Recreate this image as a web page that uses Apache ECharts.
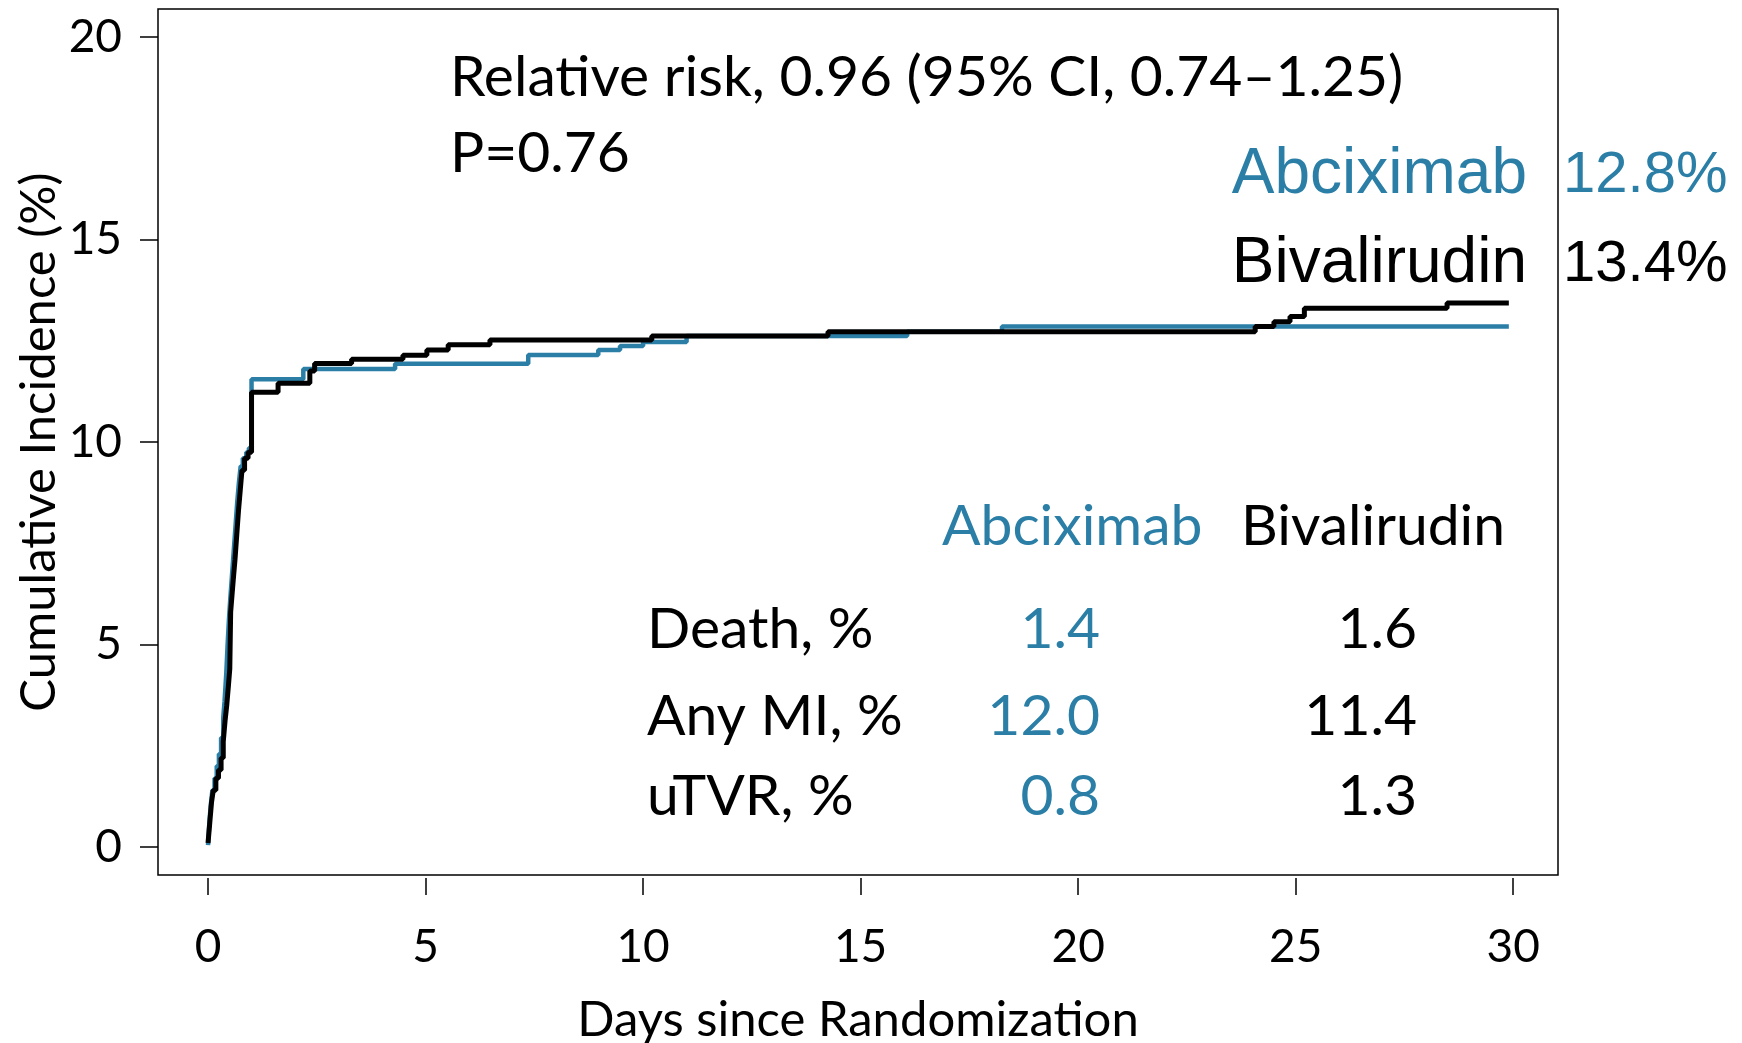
<!DOCTYPE html>
<html>
<head>
<meta charset="utf-8">
<script src="https://cdn.jsdelivr.net/npm/echarts@6/dist/echarts.min.js"></script>
<style>
  html, body { margin: 0; padding: 0; background: #fff; }
</style>
</head>
<body>
<!-- chart container, same size as the window -->
<div id="main" style="width: 1742px; height: 1043px;"></div>
<script>
// abciximab curve (day of event, cumulative %)
var abcDays = [0, 0.03, 0.06, 0.1, 0.15, 0.2, 0.25, 0.3, 0.35, 0.38, 0.42, 0.45, 0.48, 0.51, 0.55, 0.59, 0.63, 0.67, 0.71, 0.75, 0.8, 0.88, 0.94, 1.0, 2.19, 4.3, 7.36, 8.97, 9.47, 10.0, 11.0, 16.07, 18.25, 29.9]
var abcPct = [0.05, 0.6, 1.0, 1.4, 1.7, 2.0, 2.3, 2.7, 3.2, 3.6, 4.3, 5.0, 5.6, 6.1, 6.7, 7.3, 7.9, 8.5, 9.0, 9.4, 9.6, 9.75, 9.85, 11.55, 11.8, 11.93, 12.15, 12.27, 12.37, 12.47, 12.62, 12.72, 12.85, 12.85]

// bivalirudin curve
var bivDays = [0, 0.04, 0.08, 0.12, 0.18, 0.24, 0.3, 0.35, 0.39, 0.43, 0.47, 0.5, 0.52, 0.55, 0.58, 0.62, 0.66, 0.7, 0.74, 0.78, 0.84, 0.92, 1.0, 1.61, 2.34, 2.45, 3.3, 4.48, 5.03, 5.52, 6.48, 10.2, 14.25, 24.07, 24.5, 24.87, 25.2, 28.48, 29.9]
var bivPct = [0.1, 0.6, 1.1, 1.4, 1.7, 1.9, 2.2, 2.6, 3.1, 3.5, 4.0, 4.4, 5.8, 6.2, 6.6, 7.1, 7.7, 8.3, 8.8, 9.3, 9.6, 9.75, 11.23, 11.45, 11.75, 11.94, 12.04, 12.14, 12.27, 12.4, 12.52, 12.62, 12.72, 12.85, 12.97, 13.1, 13.3, 13.43, 13.43]

var xTicks = [0, 5, 10, 15, 20, 25, 30]
var yTicks = [0, 5, 10, 15, 20]

var outcomes = ['Death, %', 'Any MI, %', 'uTVR, %']
var abcOutcome = ['1.4', '12.0', '0.8']
var bivOutcome = ['1.6', '11.4', '1.3']

var BLUE = '#2b7fa7'
var FONT = 'Lato'

function zip (a, b) {
  var out = []
  for (var i = 0; i < a.length; i++) out.push([a[i], b[i]])
  return out
}

var graphics = [
  // relative risk block
  { type: 'text', style: { text: 'Relative risk, 0.96 (95% CI, 0.74\u20131.25)', x: 450, y: 78, font: '57px ' + FONT, fill: '#000', verticalAlign: 'middle' } },
  { type: 'text', style: { text: 'P=0.76', x: 450, y: 154, font: '57px ' + FONT, fill: '#000', verticalAlign: 'middle' } },
  // end-of-curve labels
  { type: 'text', style: { text: 'Abciximab', x: 1527, y: 175, font: '64px "Liberation Sans"', fill: BLUE, align: 'right', verticalAlign: 'middle' } },
  { type: 'text', style: { text: '12.8%', x: 1563, y: 176, font: '58px "Liberation Sans"', fill: BLUE, verticalAlign: 'middle' } },
  { type: 'text', style: { text: 'Bivalirudin', x: 1527, y: 264, font: '64px "Liberation Sans"', fill: '#000', align: 'right', verticalAlign: 'middle' } },
  { type: 'text', style: { text: '13.4%', x: 1563, y: 265, font: '58px "Liberation Sans"', fill: '#000', verticalAlign: 'middle' } },
  // table header
  { type: 'text', style: { text: 'Abciximab', x: 942, y: 527, font: '57px ' + FONT, fill: BLUE, verticalAlign: 'middle' } },
  { type: 'text', style: { text: 'Bivalirudin', x: 1241, y: 527, font: '57px ' + FONT, fill: '#000', verticalAlign: 'middle' } }
]

var rowBase = [630, 717, 797]
for (var r = 0; r < outcomes.length; r++) {
  graphics.push({ type: 'text', style: { text: outcomes[r], x: 647, y: rowBase[r], font: '57px ' + FONT, fill: '#000', verticalAlign: 'middle' } })
  graphics.push({ type: 'text', style: { text: abcOutcome[r], x: 1100, y: rowBase[r], font: '57px ' + FONT, fill: BLUE, align: 'right', verticalAlign: 'middle' } })
  graphics.push({ type: 'text', style: { text: bivOutcome[r], x: 1417, y: rowBase[r], font: '57px ' + FONT, fill: '#000', align: 'right', verticalAlign: 'middle' } })
}

var option = {
  animation: false,
  backgroundColor: '#fff',
  grid: {
    left: 158,
    right: 184,
    top: 9,
    bottom: 168,
    outerBoundsMode: 'none',
    containLabel: false,
    show: true,
    borderColor: '#000',
    borderWidth: 1.5
  },
  xAxis: {
    type: 'value',
    min: -1.15,
    max: 31.03,
    offset: 3,
    name: 'Days since Randomization',
    nameLocation: 'middle',
    nameGap: 118,
    nameMoveOverlap: false,
    nameTextStyle: { fontFamily: FONT, fontSize: 49, color: '#000' },
    axisLine: { show: false, onZero: false },
    splitLine: { show: false },
    axisTick: { show: true, inside: false, length: 17, customValues: xTicks, lineStyle: { color: '#000', width: 1.5 } },
    axisLabel: { customValues: xTicks, fontFamily: FONT, fontSize: 46, color: '#000', margin: 46 }
  },
  yAxis: {
    type: 'value',
    min: -0.69,
    max: 20.69,
    name: 'Cumulative Incidence (%)',
    nameLocation: 'middle',
    nameGap: 94,
    nameMoveOverlap: false,
    nameTextStyle: { fontFamily: FONT, fontSize: 49, color: '#000' },
    axisLine: { show: false, onZero: false },
    splitLine: { show: false },
    axisTick: { show: true, inside: false, length: 18, customValues: yTicks, lineStyle: { color: '#000', width: 1.5 } },
    axisLabel: { customValues: yTicks, fontFamily: FONT, fontSize: 46, color: '#000', margin: 36 }
  },
  series: [
    {
      name: 'Abciximab',
      type: 'line',
      step: 'end',
      showSymbol: false,
      data: zip(abcDays, abcPct),
      lineStyle: { color: BLUE, width: 4.5 }
    },
    {
      name: 'Bivalirudin',
      type: 'line',
      step: 'end',
      showSymbol: false,
      data: zip(bivDays, bivPct),
      lineStyle: { color: '#000', width: 5 }
    }
  ],
  graphic: graphics
}

var chart = echarts.init(document.getElementById('main'))
chart.setOption(option)
</script>
</body>
</html>
